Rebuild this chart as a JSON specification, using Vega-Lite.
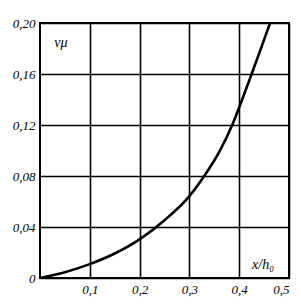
{
  "$schema": "https://vega.github.io/schema/vega-lite/v6.json",
  "width": 249,
  "height": 255,
  "autosize": "none",
  "padding": {"left": 40, "top": 23, "right": 12, "bottom": 28},
  "background": "white",
  "config": {
    "view": {"stroke": "black", "strokeWidth": 2},
    "axis": {
      "labelFont": "Liberation Serif",
      "labelFontStyle": "italic",
      "labelFontSize": 13,
      "labelColor": "black",
      "domain": false,
      "ticks": false,
      "gridColor": "black",
      "gridWidth": 1.6,
      "gridOpacity": 1,
      "title": null
    }
  },
  "datasets": {
    "curve": [
      {"x": 0, "y": 0},
      {"x": 0.05, "y": 0.0046},
      {"x": 0.1, "y": 0.0109},
      {"x": 0.15, "y": 0.0192},
      {"x": 0.2, "y": 0.0303},
      {"x": 0.25, "y": 0.0453},
      {"x": 0.3, "y": 0.0642},
      {"x": 0.33, "y": 0.0802},
      {"x": 0.36, "y": 0.099},
      {"x": 0.386, "y": 0.12},
      {"x": 0.405, "y": 0.139},
      {"x": 0.425, "y": 0.16},
      {"x": 0.445, "y": 0.1815},
      {"x": 0.462, "y": 0.2}
    ],
    "labels": [
      {"x": 0.042, "y": 0.184, "t": "νμ"},
      {"x": 0.448, "y": 0.0102, "t": "x/h₀"}
    ]
  },
  "layer": [
    {
      "data": {"name": "curve"},
      "mark": {"type": "line", "color": "black", "strokeWidth": 2.6, "interpolate": "monotone", "clip": true},
      "encoding": {
        "x": {"field": "x", "type": "quantitative", "scale": {"domain": [0, 0.5], "nice": false},
          "axis": {"values": [0.1, 0.2, 0.3, 0.4, 0.5], "labelExpr": "replace(format(datum.value, '.1f'), '.', ',')", "labelPadding": 5}},
        "y": {"field": "y", "type": "quantitative", "scale": {"domain": [0, 0.2], "nice": false},
          "axis": {"values": [0, 0.04, 0.08, 0.12, 0.16, 0.2], "labelExpr": "datum.value == 0 ? '0' : replace(format(datum.value, '.2f'), '.', ',')", "labelPadding": 5}}
      }
    },
    {
      "data": {"name": "labels"},
      "mark": {"type": "text", "font": "Liberation Serif", "fontStyle": "italic", "fontSize": 14, "color": "black"},
      "encoding": {
        "x": {"field": "x", "type": "quantitative"},
        "y": {"field": "y", "type": "quantitative"},
        "text": {"field": "t"}
      }
    }
  ]
}
